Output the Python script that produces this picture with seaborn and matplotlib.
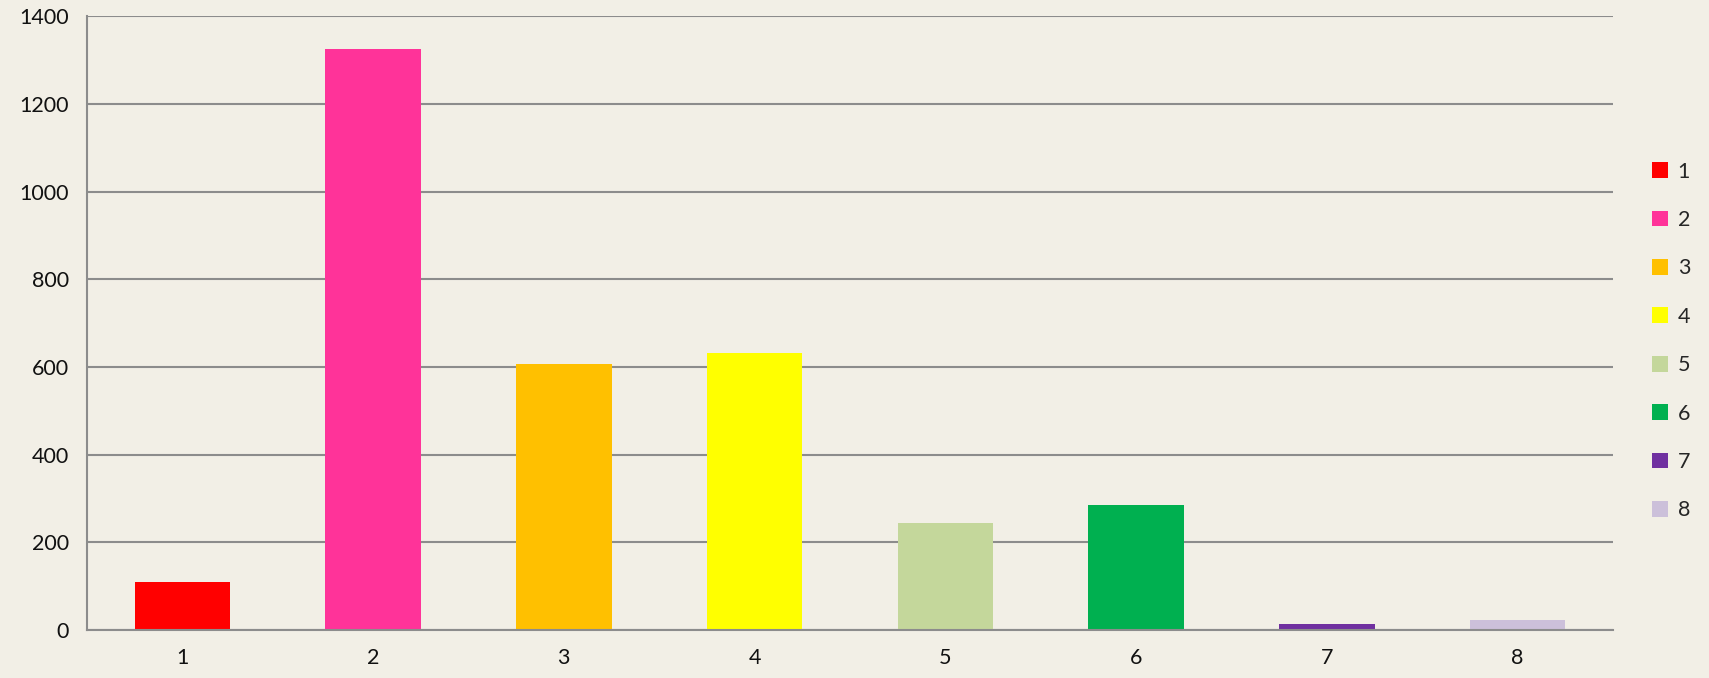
import matplotlib
matplotlib.use('Agg')
import matplotlib.pyplot as plt
import seaborn as sns
import pandas as pd
from matplotlib.patches import Patch

# --- Data --- #
categories = ['1', '2', '3', '4', '5', '6', '7', '8']
values = [110, 1325, 607, 632, 244, 286, 13, 22]
colors = ['#FF0000', '#FF3399', '#FFC000', '#FFFF00', '#C4D79B', '#00B050', '#7030A0', '#CCC0DA']
y_ticks = [0, 200, 400, 600, 800, 1000, 1200, 1400]

bg = '#F2EFE6'
grid_col = '#8C8C8C'

sns.set_style('white')
plt.rcParams['font.family'] = ['Lato', 'DejaVu Sans']

df = pd.DataFrame({'cat': categories, 'val': values})

fig = plt.figure(figsize=(17.09, 6.78), dpi=100, facecolor=bg)
ax = fig.add_axes([0.0509, 0.0708, 0.8929, 0.905])
ax.set_facecolor(bg)

sns.barplot(data=df, x='cat', y='val', hue='cat', palette=colors, dodge=False,
            width=0.5, saturation=1, legend=False, ax=ax, zorder=3, linewidth=0)

ax.set_xlim(-0.5, len(categories) - 0.5)
ax.set_ylim(0, 1400)
ax.set_yticks(y_ticks)
ax.set_yticklabels([str(t) for t in y_ticks], fontsize=15.5, color='#111111')
ax.yaxis.grid(True, color=grid_col, linewidth=1.5, zorder=0)
ax.set_xlabel('')
ax.set_ylabel('')

# category ticks between bars, labels centered
ax.set_xticks([i - 0.5 for i in range(len(categories) + 1)], minor=False)
ax.set_xticklabels([])
ax.set_xticks(range(len(categories)), minor=True)
ax.set_xticklabels(categories, minor=True, fontsize=15.5, color='#111111')
ax.tick_params(axis='x', which='major', length=8, width=1.5, color=grid_col, direction='out')
ax.tick_params(axis='x', which='minor', length=0, pad=13)
ax.tick_params(axis='y', length=8, width=1.5, color=grid_col, direction='out', pad=5)

for s in ['top', 'right']:
    ax.spines[s].set_visible(False)
for s in ['left', 'bottom']:
    ax.spines[s].set_color(grid_col)
    ax.spines[s].set_linewidth(1.5)
    ax.spines[s].set_zorder(4)

handles = [Patch(facecolor=c, edgecolor='none') for c in colors]
fig.legend(handles, categories, loc='center left', bbox_to_anchor=(0.9615, 0.497),
           frameon=False, fontsize=15.5, handlelength=0.75, handleheight=0.75,
           handletextpad=0.45, labelspacing=1.32, borderaxespad=0)

fig.savefig('out.png', dpi=100, facecolor=bg)
